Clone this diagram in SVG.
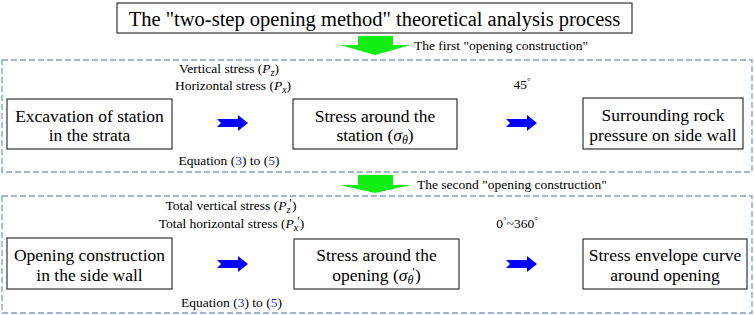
<svg xmlns="http://www.w3.org/2000/svg" width="754" height="315" viewBox="0 0 754 315" font-family="'Liberation Serif', Tinos, 'Times New Roman', 'DejaVu Serif', serif">
<style>
text{font-family:"Liberation Serif",Tinos,"Times New Roman","DejaVu Serif",serif;fill:#000}
.box{fill:#fff;stroke:#333;stroke-width:1.2}
.dash{fill:none;stroke:#7f9dc9;stroke-width:1.3;stroke-dasharray:6,3}
.lbl{font-size:17.5px;text-anchor:middle}
.sm{font-size:13.5px}
.mid{text-anchor:middle}
.blue{fill:#0000ff}
.green{fill:#11ee11}
.num{fill:#2233cc}
.pr{font-size:12px}
</style>
<defs>
<polygon id="barrow" points="0,-4 21,-4 21,-8 31,0 21,8 21,4 0,4 4,0"/>
</defs>
<rect width="754" height="315" fill="#fff"/>
<g id="title">
<rect class="box" x="117" y="3" width="515" height="30"/>
<text x="374.5" y="25.5" style="font-size:20.5px" class="mid">The "two-step opening method" theoretical analysis process</text>
</g>
<g id="stage1">
<rect class="dash" x="2" y="60" width="750" height="112"/>
</g>
<g id="stage2">
<rect class="dash" x="2" y="196" width="750" height="117"/>
</g>
<g id="n1">
<rect class="box" x="7" y="99" width="165" height="50"/>
<text class="lbl" x="89.5" y="121.5">Excavation of station</text>
<text class="lbl" x="89.5" y="141">in the strata</text>
</g>
<g id="n2">
<rect class="box" x="293" y="99" width="164" height="50"/>
<text class="lbl" x="375" y="121.5">Stress around the</text>
<text class="lbl" x="375" y="141">station (<tspan font-style="italic">σ</tspan><tspan font-style="italic" font-size="12" dy="3">θ</tspan><tspan dy="-3">)</tspan></text>
</g>
<g id="n3">
<rect class="box" x="583" y="98" width="160" height="51"/>
<text class="lbl" x="663" y="121">Surrounding rock</text>
<text class="lbl" x="663" y="141">pressure on side wall</text>
</g>
<g id="n4">
<rect class="box" x="7" y="238" width="165" height="51"/>
<text class="lbl" x="89.5" y="260.5">Opening construction</text>
<text class="lbl" x="89.5" y="281">in the side wall</text>
</g>
<g id="n5">
<rect class="box" x="294" y="239" width="165" height="50"/>
<text class="lbl" x="376.5" y="260.5">Stress around the</text>
<text class="lbl" x="376.5" y="281">opening (<tspan font-style="italic">σ</tspan><tspan font-style="italic" font-size="12" dy="3">θ</tspan><tspan class="pr" dx="-1" dy="-8">′</tspan><tspan dy="5">)</tspan></text>
</g>
<g id="n6">
<rect class="box" x="583" y="239" width="164" height="50"/>
<text class="lbl" x="665" y="260.5">Stress envelope curve</text>
<text class="lbl" x="665" y="281">around opening</text>
</g>
<g id="connectors">
<polygon class="green" points="358,36 393,36 393,45 411,45 375,55 340,45 358,45"/>
<polygon class="green" points="358,175 393,175 393,185 411,185 375,193 340,185 358,185"/>
<use href="#barrow" class="blue" x="217" y="123"/>
<use href="#barrow" class="blue" x="506" y="123"/>
<use href="#barrow" class="blue" x="217" y="264"/>
<use href="#barrow" class="blue" x="506" y="264"/>
</g>
<g id="labels">
<text class="sm" x="414" y="50">The first "opening construction"</text>
<text class="sm" x="417" y="188.5">The second "opening construction"</text>
<text class="sm mid" x="229" y="73">Vertical stress (<tspan font-style="italic">P</tspan><tspan font-style="italic" font-size="10" dy="3">z</tspan><tspan dy="-3">)</tspan></text>
<text class="sm mid" x="233" y="89.5">Horizontal stress (<tspan font-style="italic">P</tspan><tspan font-style="italic" font-size="10" dy="3">x</tspan><tspan dy="-3">)</tspan></text>
<text class="sm mid" x="522" y="89">45<tspan font-size="9" dy="-5">°</tspan></text>
<text class="sm mid" x="229" y="165">Equation (<tspan class="num">3</tspan>) to (<tspan class="num">5</tspan>)</text>
<text class="sm mid" x="231" y="210">Total vertical stress (<tspan font-style="italic">P</tspan><tspan font-style="italic" font-size="10" dy="3">z</tspan><tspan class="pr" dx="-1" dy="-6">′</tspan><tspan dy="3">)</tspan></text>
<text class="sm mid" x="231.5" y="228">Total horizontal stress (<tspan font-style="italic">P</tspan><tspan font-style="italic" font-size="10" dy="3">x</tspan><tspan class="pr" dx="-1" dy="-6">′</tspan><tspan dy="3">)</tspan></text>
<text class="sm mid" x="517" y="228">0<tspan font-size="9" dy="-5">°</tspan><tspan dy="5">~360</tspan><tspan font-size="9" dy="-5">°</tspan></text>
<text class="sm mid" x="231.5" y="307">Equation (<tspan class="num">3</tspan>) to (<tspan class="num">5</tspan>)</text>
</g>
</svg>
